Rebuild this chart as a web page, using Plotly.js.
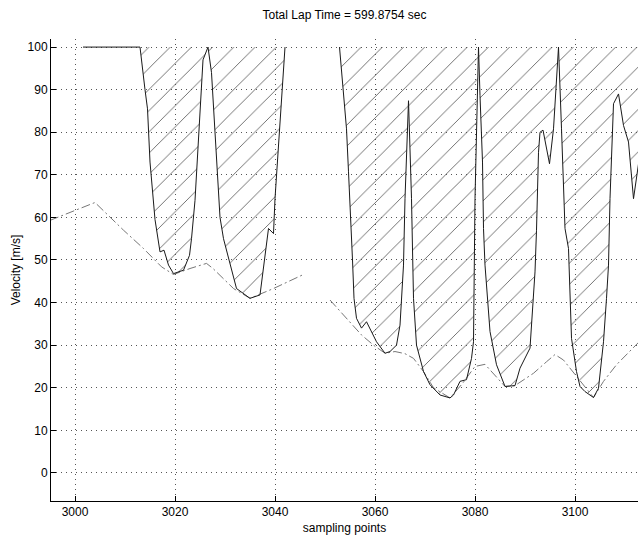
<!DOCTYPE html>
<html>
<head>
<meta charset="utf-8">
<script src="https://cdn.plot.ly/plotly-3.0.1.min.js"></script>
<style>html,body{margin:0;padding:0;background:#fff;}#chart{width:638px;height:536px;}</style>
</head>
<body>
<div id="chart"></div>
<script>
// Velocity profile (solid) – null marks the gap where the curve leaves the plot
const velX = [3001.6, 3013, 3014, 3014.5, 3015, 3015.7, 3016, 3017, 3017.8, 3018.7,
  3019.7, 3021.7, 3022.9, 3023.3, 3024, 3025.6, 3026.6, 3027.3, 3029, 3029.7,
  3031.7, 3032.3, 3035, 3037, 3038.7, 3039.7, 3040, 3042,
  3047,
  3052.9, 3053.7, 3054.3, 3054.7, 3055, 3055.5, 3055.8, 3056.3, 3057.3, 3058.3,
  3060.3, 3062, 3063, 3064.3, 3065, 3065.7, 3066, 3066.7, 3067.3, 3067.7,
  3068.3, 3069.7, 3071, 3073, 3075, 3075.7, 3077, 3078.3, 3079.3, 3079.7,
  3080, 3080.7, 3081, 3081.5, 3081.7, 3082, 3083, 3084.3, 3086, 3088,
  3089, 3091, 3092, 3092.3, 3092.7, 3093, 3093.6, 3094.9, 3095.7, 3096.7,
  3097.3, 3098, 3098.7, 3099, 3099.3, 3100.3, 3101, 3102, 3103.7, 3104.7,
  3105.7, 3106.3, 3106.7, 3107, 3107.3, 3107.7, 3108.7, 3109.7, 3110.7, 3111.7,
  3113];
const velY = [100, 100, 90, 85.5, 73, 64, 59.5, 51.9, 52.3, 48.8,
  46.8, 47.6, 51.1, 55, 64, 97, 100, 94, 60, 55,
  45.7, 43.3, 41, 41.8, 57.4, 56.2, 64.4, 100,
  null,
  100, 90, 80.8, 70.7, 61.3, 50, 41, 36.3, 34, 35.5,
  30.8, 28.1, 28.5, 30, 34.7, 48.8, 64.4, 87.4, 64.4, 41,
  30, 23.8, 20.7, 18.3, 17.6, 18.3, 21.5, 21.9, 26.9, 30.8,
  64.4, 100, 88.6, 73, 57.4, 48.8, 33.2, 25.4, 20.3, 20.5,
  24.6, 29.3, 47.2, 57, 75.3, 80, 80.5, 72.6, 80.8, 100,
  80.8, 57.4, 52.7, 41, 31.6, 23.8, 20.3, 19.1, 17.7, 19.9,
  30.8, 41, 48.8, 64.4, 75, 86.7, 89, 81.6, 77.7, 64.4,
  75];

// Lower bound curve (dash-dot)
const bndX = [2995, 3004, 3009.7, 3013.7, 3017.3, 3019.7, 3023, 3026.3, 3027.6, 3031.7,
  3035, 3039.7, 3045.7, 3048, 3051, 3054, 3055.7, 3057.3, 3059.7, 3062,
  3064, 3066, 3067.7, 3069.7, 3071.7, 3075, 3077.5, 3080, 3082, 3083.5,
  3086, 3088, 3091.7, 3094.3, 3096, 3097.7, 3100.5, 3103.7, 3105.7, 3108.3,
  3113];
const bndY = [59.3, 63.5, 57, 52.7, 48.4, 46.6, 48, 49.2, 48, 43.3,
  41, 43.3, 46.6, null, 40.6, 36.7, 34.4, 32.4, 30, 28.1,
  28.5, 28, 26.9, 23.8, 20, 17.6, 21, 25, 25.5, 23.5,
  20.3, 20.5, 23.4, 26.1, 27.8, 26.5, 22.5, 17.7, 21.5, 25.4,
  31];

const xTicks = [3000, 3020, 3040, 3060, 3080, 3100];
const yTicks = [0, 10, 20, 30, 40, 50, 60, 70, 80, 90, 100];
const ceiling = 100;
const titleText = 'Total Lap Time = 599.8754 sec';

// Build hatched areas between the velocity curve and the ceiling
const hatchTraces = [];
let sx = [], sy = [];
function flush() {
  if (sx.length > 1) {
    const px = [sx[0]].concat(sx, [sx[sx.length - 1]]);
    const py = [ceiling].concat(sy, [ceiling]);
    hatchTraces.push({
      x: px, y: py, type: 'scatter', mode: 'lines', fill: 'toself',
      line: {width: 0, color: 'rgba(0,0,0,0)'},
      fillcolor: 'rgba(0,0,0,0)',
      fillpattern: {shape: '/', size: 15, solidity: 0.055, fgcolor: '#555', bgcolor: 'rgba(0,0,0,0)'},
      hoverinfo: 'skip', showlegend: false
    });
  }
  sx = []; sy = [];
}
for (let i = 0; i < velX.length; i++) {
  if (velY[i] === null) { flush(); } else { sx.push(velX[i]); sy.push(velY[i]); }
}
flush();

const traces = hatchTraces.concat([
  {x: bndX, y: bndY, type: 'scatter', mode: 'lines',
   line: {color: '#777', width: 1, dash: '9px,3px,2px,3px'}, connectgaps: false, showlegend: false},
  {x: velX, y: velY, type: 'scatter', mode: 'lines',
   line: {color: '#1a1a1a', width: 1}, connectgaps: false, showlegend: false}
]);

const font = {family: 'Liberation Sans, Arial, Helvetica, sans-serif', size: 12, color: '#000'};
const axisCommon = {
  ticks: 'inside', ticklen: 5, tickcolor: '#000', tickwidth: 1,
  showline: true, linecolor: '#000', linewidth: 1, mirror: false,
  showgrid: true, gridcolor: '#555', gridwidth: 1, griddash: '1px,4px',
  zeroline: false, tickfont: font, automargin: false
};

const layout = {
  width: 638, height: 536,
  margin: {l: 51, r: 0, t: 39, b: 35},
  paper_bgcolor: '#fff', plot_bgcolor: '#fff',
  font: font,
  showlegend: false,
  title: {text: titleText, font: font, xref: 'paper', x: 0.5, xanchor: 'center',
          yref: 'container', y: 1 - 15 / 536, yanchor: 'middle'},
  xaxis: Object.assign({}, axisCommon, {
    range: [2995.2, 3112.6], tickmode: 'array', tickvals: xTicks,
    ticktext: xTicks.map(String),
    title: {text: 'sampling points', font: font, standoff: 5}
  }),
  yaxis: Object.assign({}, axisCommon, {
    range: [-6.6, 101.9], tickmode: 'array', tickvals: yTicks,
    ticktext: yTicks.map(String),
    title: {text: 'Velocity [m/s]', font: font, standoff: 4}
  })
};

Plotly.newPlot('chart', traces, layout, {displayModeBar: false, staticPlot: true});
</script>
</body>
</html>
